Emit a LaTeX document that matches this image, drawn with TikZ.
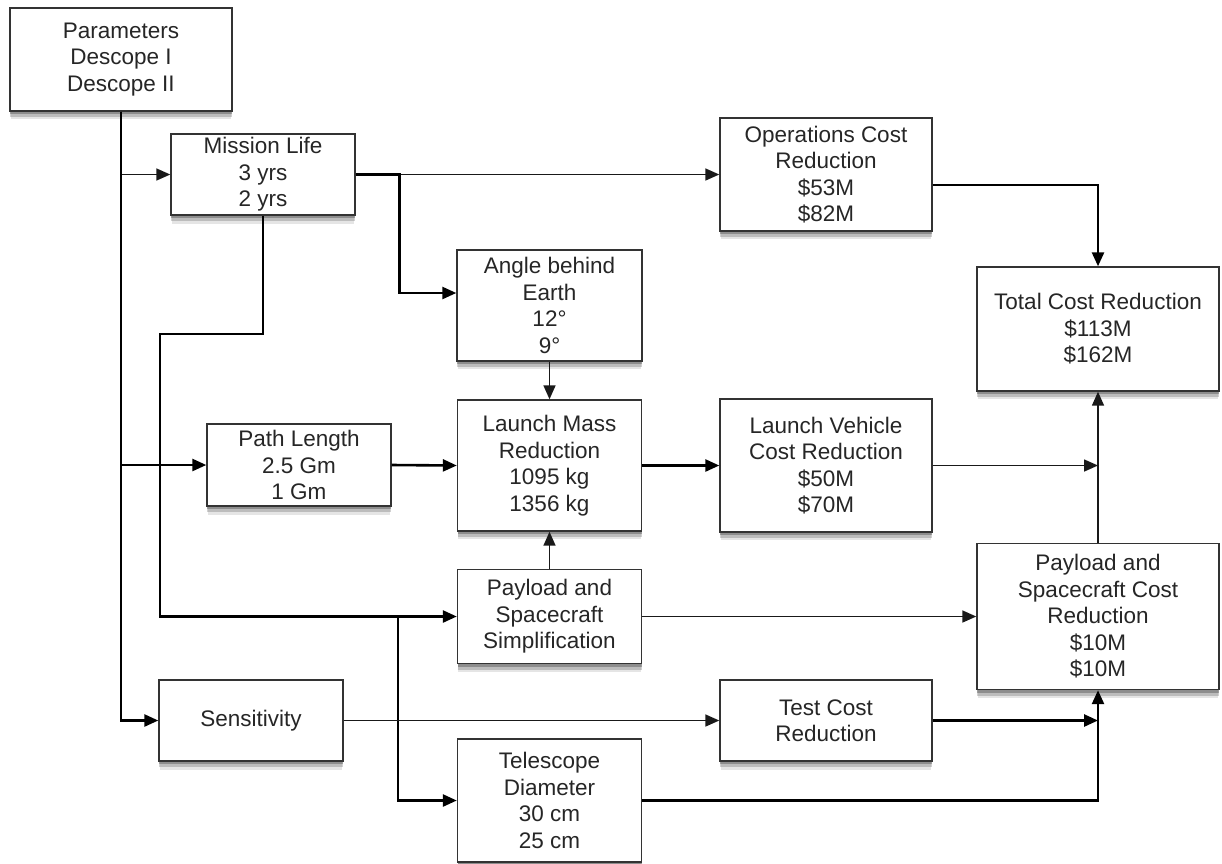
\documentclass[tikz,border=0pt]{standalone}
\usepackage{fontspec}
\setmainfont{Liberation Sans}
\usepackage{tikz}
\usetikzlibrary{arrows.meta}
\usetikzlibrary{shadows}

\tikzset{
    box/.style={draw=black!80, line width=1.4pt, fill=white, align=center,
        inner sep=0pt, text=black!85,
        font=\fontsize{22.5}{26.5}\selectfont,
        drop shadow={shadow xshift=0pt, shadow yshift=-3pt, fill=black, opacity=.25},
        drop shadow={shadow xshift=0pt, shadow yshift=-6pt, fill=black, opacity=.18},
        drop shadow={shadow xshift=0pt, shadow yshift=-9pt, shadow scale=0.99, fill=black, opacity=.1}},
    thinline/.style={line width=1.6pt, black!90},
    thickline/.style={line width=2.6pt, black}}

\begin{document}
\begin{tikzpicture}[x=1pt, y=-1pt, >={Triangle[length=14pt,width=12pt]}]

    \useasboundingbox (0,0) rectangle (1222,863);

    \node[box, minimum width=222, minimum height=103] (par) at (121,59.5) {Parameters\\Descope I\\Descope II};
    \node[box, minimum width=184, minimum height=81] (ml) at (263,174.5) {Mission Life\\3 yrs\\2 yrs};
    \node[box, minimum width=212, minimum height=113] (ops) at (826,174.5) {Operations Cost\\Reduction\\\$53M\\\$82M};
    \node[box, minimum width=185, minimum height=111] (ang) at (549.5,305.5) {Angle behind\\Earth\\12°\\9°};
    \node[box, minimum width=242, minimum height=124] (tot) at (1098,329) {Total Cost Reduction\\\$113M\\\$162M};
    \node[box, minimum width=184, minimum height=82] (pl) at (299,465) {Path Length\\2.5 Gm\\1 Gm};
    \node[box, minimum width=184, minimum height=131] (lm) at (549.5,465.5) {Launch Mass\\Reduction\\1095 kg\\1356 kg};
    \node[box, minimum width=212, minimum height=133] (lv) at (826,465.5) {Launch Vehicle\\Cost Reduction\\\$50M\\\$70M};
    \node[box, minimum width=184, minimum height=94] (pay) at (549.5,616.5) {Payload and\\Spacecraft\\Simplification};
    \node[box, minimum width=242, minimum height=146] (pc) at (1098,616.5) {Payload and\\Spacecraft Cost\\Reduction\\\$10M\\\$10M};
    \node[box, minimum width=184, minimum height=81] (sens) at (251,720.5) {Sensitivity};
    \node[box, minimum width=212, minimum height=81] (test) at (826,720.5) {Test Cost\\Reduction};
    \node[box, minimum width=184, minimum height=123] (tel) at (549.5,800.5) {Telescope\\Diameter\\30 cm\\25 cm};

    \coordinate (mlturn) at (160,334);
    \coordinate (split) at (398,616.5);

    % from parameters
    \draw[thinline, ->] (par.south) |- (ml.west);
    \draw[thickline, ->] (par.south) |- (pl.west);
    \draw[thickline, ->] (par.south) |- (sens.west);

    % from mission life
    \draw[thinline, ->] (ml.east) -- (ops.west);
    \draw[thickline, ->] (ml.east) -- ++(44,0) |- ([yshift=12.5]ang.west);
    \draw[thickline, ->] (ml.south) |- (mlturn) |- (pay.west);
    \draw[thickline, ->] (split) |- (tel.west);

    % middle column
    \draw[thickline, ->] (pl.east) -- (lm.west);
    \draw[thinline, ->] (ang.south) -- (lm.north);
    \draw[thinline, ->] (pay.north) -- (lm.south);
    \draw[thickline, ->] (lm.east) -- (lv.west);
    \draw[thinline, ->] (pay.east) -- (pc.west);
    \draw[thinline, ->] (sens.east) -- (test.west);

    % into the cost boxes
    \draw[thickline, ->] ([yshift=-10.5]ops.east) -| (tot.north);
    \draw[thinline, ->] (lv.east) -- (lv.east -| tot.south);
    \draw[thinline, ->] (pc.north) -- (tot.south);
    \draw[thickline, ->] (test.east) -- (test.east -| pc.south);
    \draw[thickline, ->] (tel.east) -| (pc.south);

\end{tikzpicture}
\end{document}
